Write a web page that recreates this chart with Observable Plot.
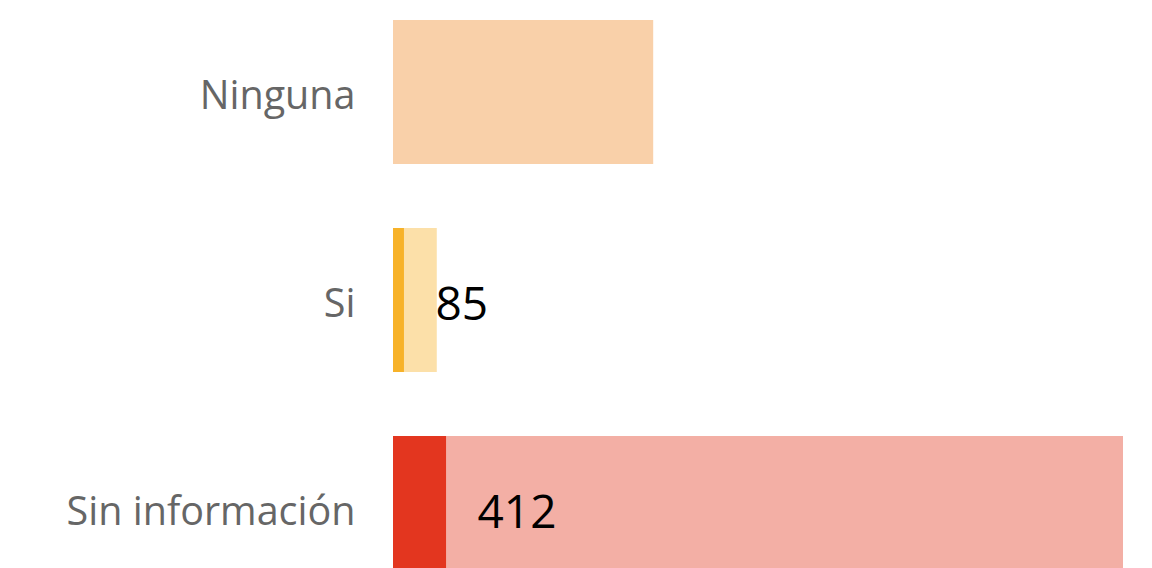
<!DOCTYPE html>
<html>
<head>
<meta charset="utf-8">
<script src="https://cdn.jsdelivr.net/npm/d3@7"></script>
<script src="https://cdn.jsdelivr.net/npm/@observablehq/plot@0.6"></script>
<style>
  html, body { margin: 0; padding: 0; background: #fff; overflow: hidden; }
  #chart svg { display: block; }
</style>
</head>
<body>
<div id="chart"></div>
<script>
const categories = ["Ninguna", "Si", "Sin información"];
const totals = [2021, 340, 5670];
const values = [0, 85, 412];
const darkColors = ["#F08A28", "#F7B229", "#E3361F"];
const lightColors = ["#F9D0A9", "#FCE0A9", "#F3AFA5"];

const data = categories.map((c, i) => ({
  cat: c, total: totals[i], value: values[i], dark: darkColors[i], light: lightColors[i]
}));

const fontFamily = "'Open Sans', 'Noto Sans', sans-serif";

const chart = Plot.plot({
  width: 1152,
  height: 582,
  marginTop: 19,
  marginBottom: 0,
  marginLeft: 393,
  marginRight: 29,
  style: { fontFamily, background: "#fff" },
  x: { domain: [0, 5670], axis: null },
  y: { domain: categories, paddingInner: 0.306, paddingOuter: 0, label: null },
  marks: [
    Plot.barX(data, { y: "cat", x: "total", fill: d => d.light }),
    Plot.barX(data, { y: "cat", x: "value", fill: d => d.dark }),
    Plot.text(data.filter(d => d.value > 0), {
      y: "cat", x: "value", text: d => String(d.value),
      textAnchor: "start", dx: 31, dy: 5, fontSize: 46, fill: "#000"
    }),
    Plot.axisY({ tickSize: 0, tickPadding: 38, dy: 4, fontSize: 39.5, color: "#666", label: null })
  ]
});
document.getElementById("chart").append(chart);
</script>
</body>
</html>
